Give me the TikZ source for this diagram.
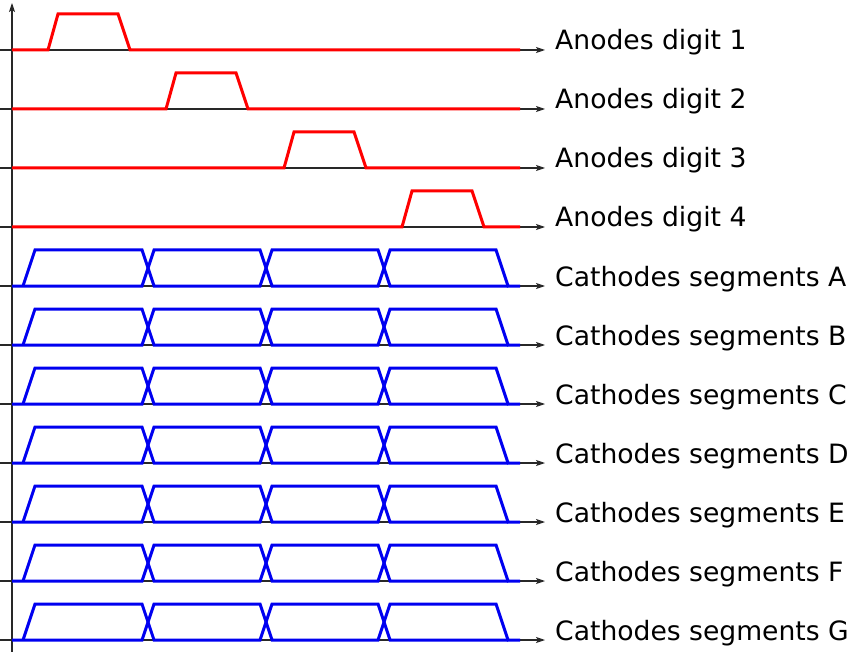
\documentclass[tikz,border=0pt]{standalone}
\usepackage{fontspec}
\setmainfont{DejaVu Sans}
\usetikzlibrary{arrows.meta}
\definecolor{axisgray}{RGB}{40,40,40}
\definecolor{sigred}{RGB}{255,0,0}
\definecolor{sigblue}{RGB}{0,0,240}
\tikzset{
  axisline/.style={draw=axisgray,line width=1.1pt,-{Stealth[length=9pt,width=6pt,inset=2pt]}},
  redsig/.style={draw=sigred,line width=3pt},
  bluesig/.style={draw=sigblue,line width=3pt},
  siglabel/.style={anchor=base west,inner sep=0pt,font=\fontsize{26.6}{30}\selectfont}
}
\begin{document}
\begin{tikzpicture}[x=1pt,y=-1pt]
\useasboundingbox (0,0) rectangle (848,652);
% vertical axis
\coordinate (vb) at (12,652);
\coordinate (vt) at (12,3);
\draw[axisline] (vb) -- (vt);
% rows
\foreach \i/\txt in {0/Anodes digit 1,1/Anodes digit 2,2/Anodes digit 3,3/Anodes digit 4,
  4/Cathodes segments A,5/Cathodes segments B,6/Cathodes segments C,7/Cathodes segments D,
  8/Cathodes segments E,9/Cathodes segments F,10/Cathodes segments G}{
  \pgfmathsetmacro{\y}{50+59*\i}
  \pgfmathsetmacro{\t}{\y-36}
  \coordinate (hs\i) at (0,\y);
  \coordinate (he\i) at (545,\y);
  \draw[axisline] (hs\i) -- (he\i);
  \node[siglabel] (lab\i) at (555,\y) {\txt};
}
% anode pulses
\foreach \k in {0,1,2,3}{
  \pgfmathsetmacro{\y}{50+59*\k}
  \pgfmathsetmacro{\t}{\y-36}
  \pgfmathsetmacro{\o}{118*\k}
  \draw[redsig] (12,\y) -- (48+\o,\y) -- (58+\o,\t) -- (118+\o,\t) -- (130+\o,\y) -- (520,\y);
}
% cathode buses
\foreach \i in {4,...,10}{
  \pgfmathsetmacro{\y}{50+59*\i}
  \pgfmathsetmacro{\t}{\y-36}
  \draw[bluesig] (12,\y) -- (142,\y) -- (154,\t) -- (260,\t) -- (272,\y) -- (378,\y)
    -- (390,\t) -- (496,\t) -- (508,\y) -- (520,\y);
  \draw[bluesig] (23,\y) -- (35,\t) -- (142,\t) -- (154,\y) -- (260,\y) -- (272,\t)
    -- (378,\t) -- (390,\y) -- (508,\y);
}
\end{tikzpicture}
\end{document}
